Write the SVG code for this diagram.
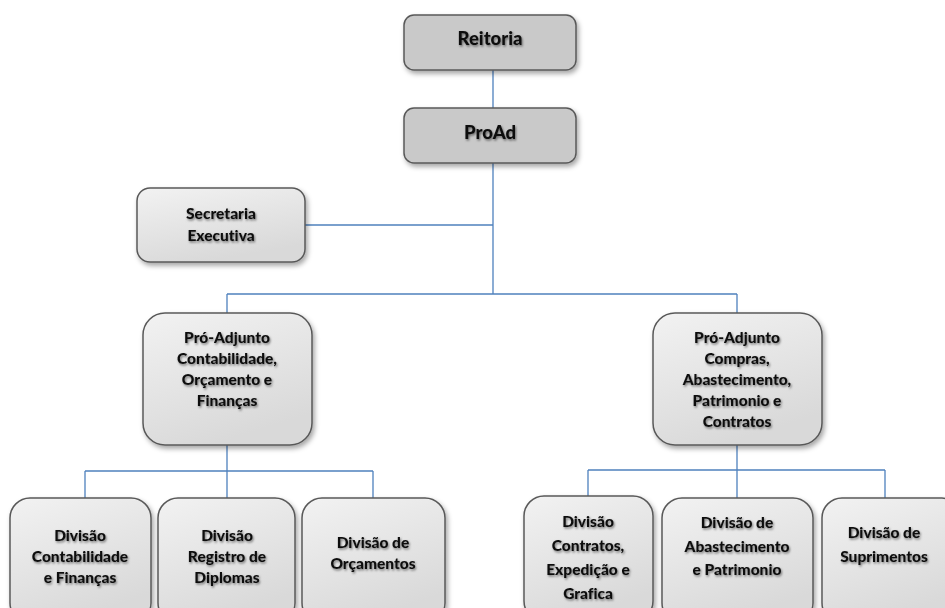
<svg xmlns="http://www.w3.org/2000/svg" width="945" height="608" viewBox="0 0 945 608">
<defs>
<linearGradient id="g" x1="0" y1="0" x2="0.4" y2="1">
<stop offset="0" stop-color="#f2f2f2"/>
<stop offset="1" stop-color="#d9d9d9"/>
</linearGradient>
<filter id="sh" x="-10%" y="-10%" width="125%" height="130%">
<feDropShadow dx="2" dy="3" stdDeviation="2.5" flood-color="#000" flood-opacity="0.35"/>
</filter>
<filter id="ts" x="-10%" y="-30%" width="120%" height="170%">
<feDropShadow dx="1" dy="1.5" stdDeviation="1.3" flood-color="#000" flood-opacity="0.5"/>
</filter>
</defs>
<style>
.box{fill:url(#g);stroke:#595959;stroke-width:1.5;filter:url(#sh)}
.dark{fill:#c9c9c9;stroke:#595959;stroke-width:1.5;filter:url(#sh)}
text{font-family:Lato,"Open Sans","Liberation Sans",sans-serif;font-weight:900;font-size:15.5px;fill:#111;text-anchor:middle;filter:url(#ts);font-variant-ligatures:none}
.big{font-size:18.5px}
.c{fill:none;stroke:#4f81bd;stroke-width:1.3}
</style>
<rect width="945" height="608" fill="#fff"/>
<g id="connectors">
<path class="c" d="M493 70V108M493 163V294M305 225H493M227 294H737M227 294V313M737 294V313"/>
<path class="c" d="M227 445V471M85 471H373M85 471V498M227 471V498M373 471V498"/>
<path class="c" d="M737 445V470M588 470H885M588 470V496M737 470V498M885 470V498"/>
</g>
<g id="reitoria"><rect class="dark" x="404" y="15" width="172" height="55" rx="10"/><text class="big" x="490" y="45">Reitoria</text></g>
<g id="proad"><rect class="dark" x="404" y="108" width="172" height="55" rx="10"/><text class="big" x="490" y="139">ProAd</text></g>
<g id="secretaria"><rect class="box" x="137" y="188" width="168" height="74" rx="13"/><text x="221" y="219">Secretaria</text><text x="221" y="241">Executiva</text></g>
<g id="proadj-cof"><rect class="box" x="143" y="313" width="169" height="132" rx="22"/><text x="227" y="343">Pró-Adjunto</text><text x="227" y="364">Contabilidade,</text><text x="227" y="385">Orçamento e</text><text x="227" y="406">Finanças</text></g>
<g id="proadj-capc"><rect class="box" x="653" y="313" width="169" height="132" rx="22"/><text x="737" y="343">Pró-Adjunto</text><text x="737" y="364">Compras,</text><text x="737" y="385">Abastecimento,</text><text x="737" y="406">Patrimonio e</text><text x="737" y="427">Contratos</text></g>
<g id="div-cf"><rect class="box" x="10" y="498" width="141" height="125" rx="20"/><text x="80" y="541">Divisão</text><text x="80" y="562">Contabilidade</text><text x="80" y="583">e Finanças</text></g>
<g id="div-rd"><rect class="box" x="158" y="498" width="137" height="125" rx="20"/><text x="227" y="541">Divisão</text><text x="227" y="562">Registro de</text><text x="227" y="583">Diplomas</text></g>
<g id="div-o"><rect class="box" x="302" y="498" width="143" height="125" rx="20"/><text x="373" y="548">Divisão de</text><text x="373" y="569">Orçamentos</text></g>
<g id="div-ceg"><rect class="box" x="524" y="496" width="129" height="125" rx="20"/><text x="588" y="527">Divisão</text><text x="588" y="551">Contratos,</text><text x="588" y="575">Expedição e</text><text x="588" y="599">Grafica</text></g>
<g id="div-ap"><rect class="box" x="662" y="498" width="151" height="125" rx="20"/><text x="737" y="528">Divisão de</text><text x="737" y="552">Abastecimento</text><text x="737" y="575">e Patrimonio</text></g>
<g id="div-s"><rect class="box" x="822" y="498" width="140" height="125" rx="20"/><text x="884" y="538">Divisão de</text><text x="884" y="562">Suprimentos</text></g>
</svg>
